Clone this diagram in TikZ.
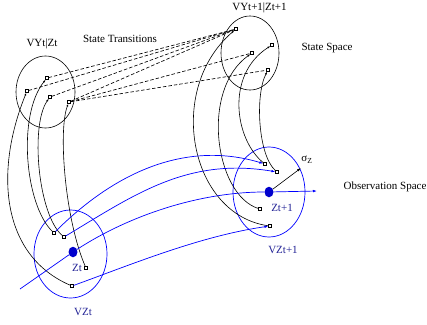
\documentclass[tikz,border=0pt]{standalone}
\usepackage{fontspec}
\setmainfont{Liberation Serif}
\usetikzlibrary{arrows.meta,shapes.geometric}
\definecolor{obsblue}{RGB}{0,0,255}
\definecolor{dotblue}{RGB}{0,0,205}
\definecolor{lblblue}{RGB}{35,35,150}
\begin{document}
\begin{tikzpicture}[x=1pt,y=-1pt,
  pt/.style={draw,fill=white,rectangle,inner sep=0pt,minimum size=2.8pt,line width=0.4pt},
  dot/.style={ellipse,fill=dotblue,inner sep=0pt,minimum width=9pt,minimum height=10.5pt},
  lbl/.style={inner sep=0pt,font=\fontsize{11}{13}\selectfont},
  blbl/.style={lbl,text=lblblue},
  dashline/.style={draw,line width=0.65pt,dash pattern=on 3.5pt off 2pt},
  curve/.style={draw,line width=0.6pt,-{Latex[length=3pt,width=2pt]}},
  obs/.style={draw=obsblue,line width=0.7pt,-{Latex[length=4pt,width=2.6pt]}},
  bell/.style={draw=obsblue,line width=0.7pt},
  kell/.style={draw,line width=0.6pt}
]
\useasboundingbox (0,0) rectangle (427,324);
% ellipses
\node[kell,ellipse,minimum width=59pt,minimum height=72pt,inner sep=0pt] (lell) at (45.5,92) {};
\node[kell,ellipse,minimum width=58pt,minimum height=74pt,inner sep=0pt] (rell) at (250,53) {};
\node[bell,ellipse,minimum width=73pt,minimum height=88pt,inner sep=0pt] (vzt) at (70.5,254) {};
\node[bell,ellipse,minimum width=72pt,minimum height=90pt,inner sep=0pt] (vzt1) at (269,192) {};
% state points
\node[pt] (p1) at (27,91) {};
\node[pt] (p2) at (47,78) {};
\node[pt] (p3) at (50,97) {};
\node[pt] (p4) at (69,102) {};
\node[pt] (q1) at (236,29) {};
\node[pt] (q2) at (252,53) {};
\node[pt] (q3) at (272,45) {};
\node[pt] (q4) at (268,70) {};
% observation points
\node[pt] (a1) at (54,233) {};
\node[pt] (a2) at (64,237) {};
\node[pt] (a3) at (86,268) {};
\node[pt] (a4) at (72,286) {};
\node[pt] (b1) at (265,164) {};
\node[pt] (b2) at (277,172) {};
\node[pt] (b3) at (260,209) {};
\node[pt] (b4) at (270,226) {};
\node[dot] (zt) at (73,252) {};
\node[dot] (zt1) at (269,192) {};
\coordinate (os) at (20,289);
\coordinate (oe) at (317,191);
\coordinate (sg) at (301,168);
% state transitions
\draw[dashline] (p1) -- (q1);
\draw[dashline] (p2) -- (q1);
\draw[dashline] (p3) -- (q1);
\draw[dashline] (p4) -- (q1);
\draw[dashline] (p4) -- (q2);
\draw[dashline] (p4) -- (q4);
% black curves
\draw[curve] (a4) .. controls (0,255) and (-5,170) .. (p1);
\draw[curve] (a1) .. controls (25,205) and (17,115) .. (p2);
\draw[curve] (a2) .. controls (38,215) and (30,125) .. (p3);
\draw[curve] (a3) .. controls (65,220) and (58,130) .. (p4);
\draw[curve] (b4) .. controls (190,215) and (165,90) .. (q1);
\draw[curve] (b3) .. controls (215,195) and (200,90) .. (q2);
\draw[curve] (b1) .. controls (235,140) and (225,75) .. (q3);
\draw[curve] (b2) .. controls (258,155) and (255,95) .. (q4);
% observation curves
\draw[obs] (a1) .. controls (114,173) and (185,140) .. (b1);
\draw[obs] (a2) .. controls (134,195) and (187,157) .. (b2);
\draw[obs] (a4) .. controls (130,265) and (200,236) .. (b4);
\draw[obs] (os) -- (zt) .. controls (130,215) and (200,192) .. (zt1) -- (oe);
\draw[line width=0.6pt,-{Latex[length=4pt,width=2.6pt]}] (zt1) -- (sg);
% labels
\node[lbl] (t1) at (42,44) {VYt|Zt};
\node[lbl] (t2) at (120,39) {State Transitions};
\node[lbl] (t3) at (259.5,8) {VYt+1|Zt+1};
\node[lbl] (t4) at (327,48) {State Space};
\node[lbl] (t5) at (307,160) {σ\textsubscript{Z}};
\node[lbl] (t6) at (385,187) {Observation Space};
\node[blbl] (t7) at (77,268) {Zt};
\node[blbl] (t8) at (282,208) {Zt+1};
\node[blbl] (t9) at (83,312) {VZt};
\node[blbl] (t10) at (283,250) {VZt+1};
\end{tikzpicture}
\end{document}
